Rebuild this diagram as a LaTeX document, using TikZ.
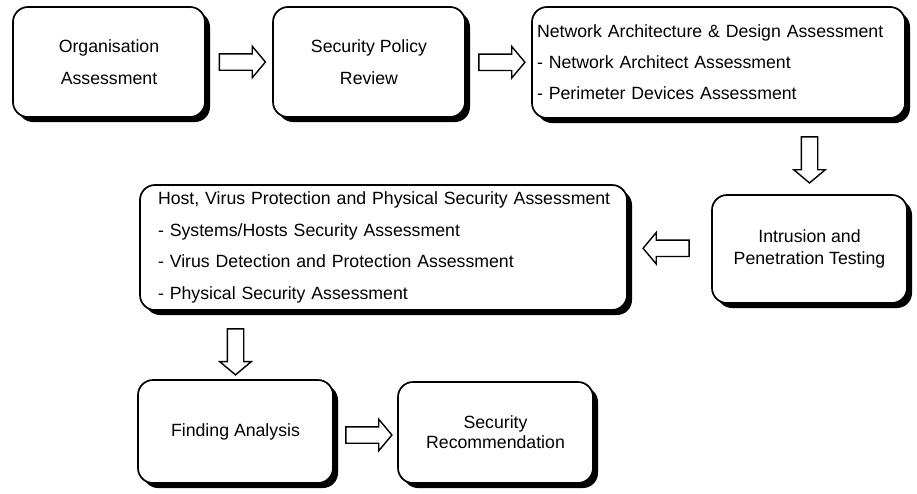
\documentclass[tikz,border=0pt]{standalone}
\usepackage{fontspec}
\setmainfont{Liberation Sans}
\usetikzlibrary{shapes.arrows,shadows,calc}
\begin{document}
\begin{tikzpicture}[x=1pt,y=-1pt,
 box/.style={draw, line width=1.7pt, rounded corners=15pt, fill=white,
   drop shadow={shadow xshift=5pt, shadow yshift=-5pt, fill=black, opacity=1},
   font=\fontsize{17.7}{32}\selectfont, align=center, inner sep=0pt},
 barrow/.style={single arrow, draw, line width=1.4pt, fill=white,
   minimum width=30pt, single arrow head extend=7.5pt, inner xsep=0pt,
   inner ysep=7.5pt, minimum height=46pt, single arrow tip angle=100}]
\useasboundingbox (0,0) rectangle (917,493);

\node[box, minimum width=192pt, minimum height=110pt] (org) at (109,62) {Organisation\\Assessment};
\node[box, minimum width=192pt, minimum height=110pt] (pol) at (369,62) {Security Policy\\Review};
\node[box, minimum width=373pt, minimum height=111pt, align=left, text width=363pt,
  inner xsep=5pt, font=\fontsize{17.7}{31}\selectfont] (net) at (718.5,62.5)
  {\mbox{Network Architecture \& Design Assessment}\\- Network Architect Assessment\\- Perimeter Devices Assessment};
\node[box, minimum width=195pt, minimum height=108pt, font=\fontsize{17.7}{22}\selectfont] (ipt) at (809.5,249) {Intrusion and\\Penetration Testing};
\node[box, minimum width=487pt, minimum height=125pt, align=left, text width=451pt,
  inner xsep=18pt, font=\fontsize{17.7}{31.5}\selectfont] (host) at (383.5,247.5)
  {\mbox{Host, Virus Protection and Physical Security Assessment}\\- Systems/Hosts Security Assessment\\- Virus Detection and Protection Assessment\\- Physical Security Assessment};
\node[box, minimum width=195pt, minimum height=103pt] (find) at (235.5,431.5) {Finding Analysis};
\node[box, minimum width=195pt, minimum height=101pt, font=\fontsize{17.7}{20}\selectfont] (rec) at (495.5,432.5) {Security\\Recommendation};

\node[barrow] (a1) at ($(org.east)!0.5!(pol.west)$) {};
\node[barrow] (a2) at ($(pol.east)!0.5!(net.west)$) {};
\node[barrow, rotate=-90] (a3) at ($(ipt.north)!0.5!(ipt.north|-net.south)$) {};
\node[barrow, rotate=180] (a4) at ($(host.east)!0.5!(ipt.west)$) {};
\node[barrow, rotate=-90] (a5) at ($(find.north)!0.45!(find.north|-host.south)$) {};
\node[barrow] (a6) at ($(find.east)!0.5!(rec.west)+(0,3)$) {};
\end{tikzpicture}
\end{document}
